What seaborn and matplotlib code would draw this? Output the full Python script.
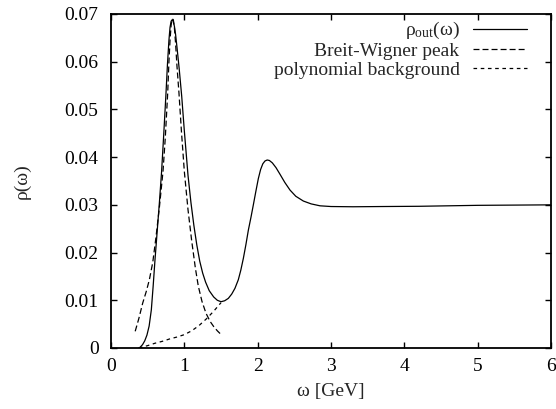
import numpy as np
import pandas as pd
import matplotlib
matplotlib.use("Agg")
import matplotlib.pyplot as plt
import seaborn as sns

# ---- data ----
omega_out = [0.38, 0.40, 0.43, 0.46, 0.49, 0.52, 0.55, 0.575, 0.60, 0.63, 0.66, 0.69,
             0.72, 0.75, 0.77, 0.79, 0.805, 0.82, 0.835, 0.85, 0.865, 0.88, 0.90, 0.93,
             0.964, 1.00, 1.05, 1.09, 1.13, 1.17, 1.21, 1.25, 1.29, 1.34, 1.40, 1.45,
             1.50, 1.55, 1.60, 1.646, 1.69, 1.736, 1.77, 1.805, 1.84, 1.873, 1.91,
             1.941, 1.975, 2.009, 2.04, 2.07, 2.10, 2.13, 2.16, 2.20, 2.25, 2.305,
             2.37, 2.441, 2.52, 2.623, 2.73, 2.85, 3.0, 3.3, 3.7, 4.2, 5.0, 6.0]
rho_out = [0.0, 0.0002, 0.0007, 0.0015, 0.0027, 0.0046, 0.0080, 0.0130, 0.0185, 0.0245,
           0.0305, 0.0370, 0.0450, 0.0534, 0.0595, 0.0645, 0.0672, 0.0685, 0.0688, 0.0684,
           0.0674, 0.0658, 0.0630, 0.0585, 0.0528, 0.0455, 0.0362, 0.0305, 0.0257, 0.0216,
           0.0182, 0.0157, 0.0138, 0.0120, 0.0107, 0.0100, 0.0097, 0.0099, 0.0104, 0.0113,
           0.0125, 0.0143, 0.0163, 0.0188, 0.0217, 0.0247, 0.0275, 0.0300, 0.0328, 0.0355,
           0.0374, 0.0386, 0.0392, 0.0394, 0.0393, 0.0388, 0.0378, 0.0364, 0.0347, 0.0331,
           0.0318, 0.0308, 0.0302, 0.0298, 0.02965, 0.0296, 0.02965, 0.0297, 0.0299, 0.0300]

omega_bw = [0.33, 0.38, 0.432, 0.48, 0.523, 0.57, 0.614, 0.66, 0.709, 0.74, 0.773, 0.79,
            0.805, 0.82, 0.835, 0.85, 0.865, 0.88, 0.90, 0.927, 0.96, 1.00, 1.05, 1.10,
            1.15, 1.19, 1.24, 1.295, 1.35, 1.40, 1.45, 1.496]
rho_bw = [0.0035, 0.0062, 0.0094, 0.0118, 0.0143, 0.0180, 0.0233, 0.0295, 0.0370, 0.0440,
          0.0534, 0.0600, 0.0645, 0.0677, 0.0690, 0.0688, 0.0670, 0.0640, 0.0590, 0.0534,
          0.0455, 0.0370, 0.0290, 0.0225, 0.0168, 0.0130, 0.0098, 0.0073, 0.0056, 0.0045,
          0.0036, 0.0029]

omega_bg = [0.38, 0.5, 0.6, 0.7, 0.8, 0.9, 1.0, 1.1, 1.2, 1.3, 1.4, 1.5]
rho_bg = [0.0, 0.0005, 0.0010, 0.0014, 0.0019, 0.0023, 0.0028, 0.0036, 0.0047, 0.0061,
          0.0077, 0.0095]

x_ticks = [0, 1, 2, 3, 4, 5, 6]
y_ticks = [0, 0.01, 0.02, 0.03, 0.04, 0.05, 0.06, 0.07]
y_tick_labels = ["0", "0.01", "0.02", "0.03", "0.04", "0.05", "0.06", "0.07"]

labels = [r"ρ$_{\mathrm{out}}$(ω)", "Breit-Wigner peak", "polynomial background"]

# ---- style ----
sns.set_style("ticks")
plt.rcParams["font.family"] = ["Liberation Serif", "DejaVu Serif"]
plt.rcParams["mathtext.fontset"] = "custom"
plt.rcParams["mathtext.rm"] = "Liberation Serif"
plt.rcParams["mathtext.it"] = "Liberation Serif:italic"
plt.rcParams["lines.scale_dashes"] = False
fs = 14

fig = plt.figure(figsize=(5.56, 4.09), dpi=100)
ax = fig.add_axes([111 / 556, 61 / 409, 440 / 556, 334 / 409])

df_out = pd.DataFrame({"w": omega_out, "r": rho_out})
df_bw = pd.DataFrame({"w": omega_bw, "r": rho_bw})
df_bg = pd.DataFrame({"w": omega_bg, "r": rho_bg})

sns.lineplot(data=df_out, x="w", y="r", ax=ax, color="black", lw=0.9, label=labels[0],
             sort=False, estimator=None)
sns.lineplot(data=df_bw, x="w", y="r", ax=ax, color="black", lw=0.9, label=labels[1],
             sort=False, estimator=None, linestyle=(0, (4.3, 2.2)))
sns.lineplot(data=df_bg, x="w", y="r", ax=ax, color="black", lw=0.9, label=labels[2],
             sort=False, estimator=None, linestyle=(0, (2.6, 2.6)))

ax.set_xlim(0, 6)
ax.set_ylim(0, 0.07)
ax.set_xticks(x_ticks)
ax.set_xticklabels([str(t) for t in x_ticks], fontsize=fs)
ax.set_yticks(y_ticks)
ax.set_yticklabels(y_tick_labels, fontsize=fs)
ax.tick_params(direction="in", length=4.5, width=1.0, top=True, right=True,
               colors="black")
ax.tick_params(axis="x", pad=7)
ax.tick_params(axis="y", pad=9)
for s in ax.spines.values():
    s.set_linewidth(1.3)
    s.set_color("black")

ax.set_xlabel("ω [GeV]", fontsize=fs, labelpad=6)
ax.set_ylabel("ρ(ω)", fontsize=fs, labelpad=24)

leg = ax.legend(loc="upper right", bbox_to_anchor=(0.9455, 0.981), frameon=False,
                markerfirst=False, fontsize=fs, handlelength=2.8, handletextpad=0.67,
                labelspacing=0.05, borderpad=0, borderaxespad=0)
for t in leg.get_texts():
    t.set_ha("right")

fig.savefig("out.png", dpi=100)
